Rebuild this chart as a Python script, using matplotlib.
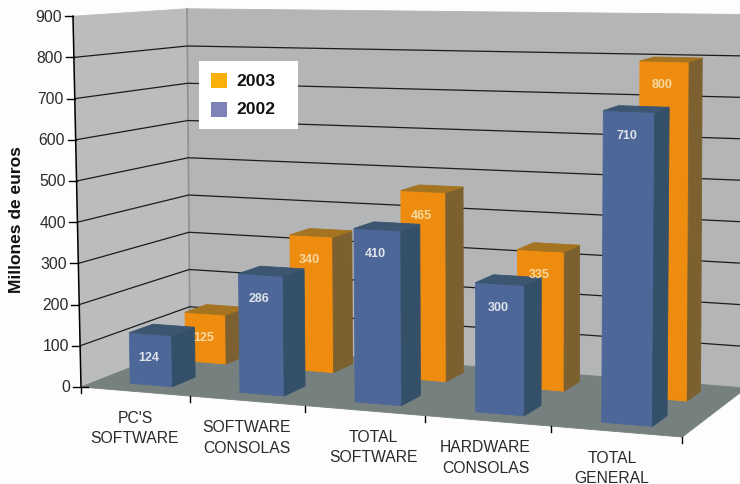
#!/usr/bin/env python3
"""Sales 2002 vs 2003, drawn as a 3D column chart with a small hand made projection."""

import matplotlib
matplotlib.use("Agg")
import matplotlib.pyplot as plt
from matplotlib.patches import Polygon, Rectangle

categories = ["PC'S\nSOFTWARE", "SOFTWARE\nCONSOLAS", "TOTAL\nSOFTWARE",
              "HARDWARE\nCONSOLAS", "TOTAL\nGENERAL"]
values_2002 = [124, 286, 410, 300, 710]
values_2003 = [125, 340, 465, 335, 800]
value_ticks = [0, 100, 200, 300, 400, 500, 600, 700, 800, 900]
series_names = ["2003", "2002"]
y_title = "Millones de euros"

V_MAX = 900
BAR_LEFT, BAR_RIGHT = 0.31, 0.70
DEPTH_2002 = (0.15, 0.37)
DEPTH_2003 = (0.67, 0.87)
LABEL_NUDGE = [0, 0, 9, -2, -4]

BLUE = ("#4d6898", "#345069", "#3c5570")
ORANGE = ("#ee8c10", "#7d6030", "#a57420")
TEXT = "#2a2a2a"

plt.rcParams["font.family"] = ["Liberation Sans", "DejaVu Sans"]


def lerp(a, b, f):
    return a + (b - a) * f


def bilerp(fl, fr, bl, br, t, d):
    return lerp(lerp(fl, fr, t), lerp(bl, br, t), d)


def project(u, d, v=0):
    """Category position u, depth d (0 front, 1 back), value v -> pixel x, y."""
    t = (106.5 * u + 2.75 * u * u) / 601.0
    x = bilerp(81, 682, 190, 746, t, d)
    y = bilerp(388, 438, 345, 389, t, d)
    scale = bilerp(0.412, 0.45, 0.3725, 0.415, t, d)
    lean = bilerp(-8, 4, -3, 2, t, d)
    return x + lean * v / V_MAX, y - scale * v


def face(ax, points, color, zorder=2):
    ax.add_patch(Polygon(points, closed=True, facecolor=color, edgecolor=color,
                         linewidth=0.6, zorder=zorder))


def draw_bar(ax, i, value, depth, colors, label_color):
    u0, u1 = i + BAR_LEFT, i + BAR_RIGHT
    d0, d1 = depth
    front, side, top = colors
    face(ax, [project(u0, d0), project(u1, d0), project(u1, d0, value), project(u0, d0, value)], front)
    face(ax, [project(u1, d0), project(u1, d1), project(u1, d1, value), project(u1, d0, value)], side)
    face(ax, [project(u0, d0, value), project(u1, d0, value), project(u1, d1, value), project(u0, d1, value)], top)
    xa, ya = project(u0, d0, value)
    xb, yb = project(u1, d0, value)
    ax.text((xa + xb) / 2 - 2, (ya + yb) / 2 + 23, str(value), color=label_color, fontsize=9,
            fontweight="bold", ha="center", va="center", zorder=3)


fig = plt.figure(figsize=(7.4, 4.85), dpi=100, facecolor="#fdfdfb")
ax = fig.add_axes([0, 0, 1, 1])
ax.set_xlim(0, 740)
ax.set_ylim(485, 0)
ax.axis("off")

n = len(categories)

# walls and floor
face(ax, [project(0, 0), project(0, 1), project(0, 1, V_MAX), project(0, 0, V_MAX)], "#babcbe", 1)
face(ax, [project(0, 1), project(n, 1), project(n, 1, V_MAX), project(0, 1, V_MAX)], "#b3b5b7", 1)
face(ax, [project(0, 0), project(n, 0), project(n, 1), project(0, 1)], "#76807f", 1)

# gridlines over the walls
for v in value_ticks[1:-1]:
    xs, ys = zip(project(0, 0, v), project(0, 1, v), project(n, 1, v))
    ax.plot(xs, ys, color="#1c1c1c", lw=0.9, zorder=1.5)
xs, ys = zip(project(0, 1), project(0, 1, V_MAX))
ax.plot(xs, ys, color="#8f9193", lw=1.2, zorder=1.4)

# value axis
xs, ys = zip(project(0, 0), project(0, 0, V_MAX))
ax.plot(xs, ys, color="black", lw=1.1, zorder=4)
for v in value_ticks:
    x, y = project(0, 0, v)
    ax.plot([x - 8, x + (7 if v == 0 else 0)], [y, y], color="black", lw=1.0, zorder=4)
    ax.text(x - 11, y, str(v), color=TEXT, fontsize=11.3, ha="right", va="center")
ax.text(17, 220, y_title, rotation=90, color="#111111", fontsize=12.5, fontweight="bold",
        ha="center", va="center")

# category ticks and labels
for i in range(n + 1):
    x, y = project(i, 0)
    ax.plot([x, x], [y, y + 6], color="black", lw=1.0, zorder=4)
for i, label in enumerate(categories):
    x, y = project(i + 0.5, 0)
    ax.text(x + LABEL_NUDGE[i], y + 36, label, color=TEXT, fontsize=11.3, ha="center", va="center",
            linespacing=1.45)

# columns, the back row first
for i, value in enumerate(values_2003):
    draw_bar(ax, i, value, DEPTH_2003, ORANGE, "#f7d9a0")
for i, value in enumerate(values_2002):
    draw_bar(ax, i, value, DEPTH_2002, BLUE, "#dfe3ea")

# legend
ax.add_patch(Rectangle((199, 62), 99, 68, facecolor="white", edgecolor="none", zorder=5))
for name, color, y in zip(series_names, ["#fbaf0a", "#7d82b9"], [81, 110]):
    ax.add_patch(Rectangle((211, y - 7.5), 16, 15, facecolor=color, edgecolor="none", zorder=6))
    ax.text(236, y, name, color="#111111", fontsize=12.6, fontweight="bold", va="center", zorder=6)

fig.savefig("out.png", dpi=100, facecolor=fig.get_facecolor())
